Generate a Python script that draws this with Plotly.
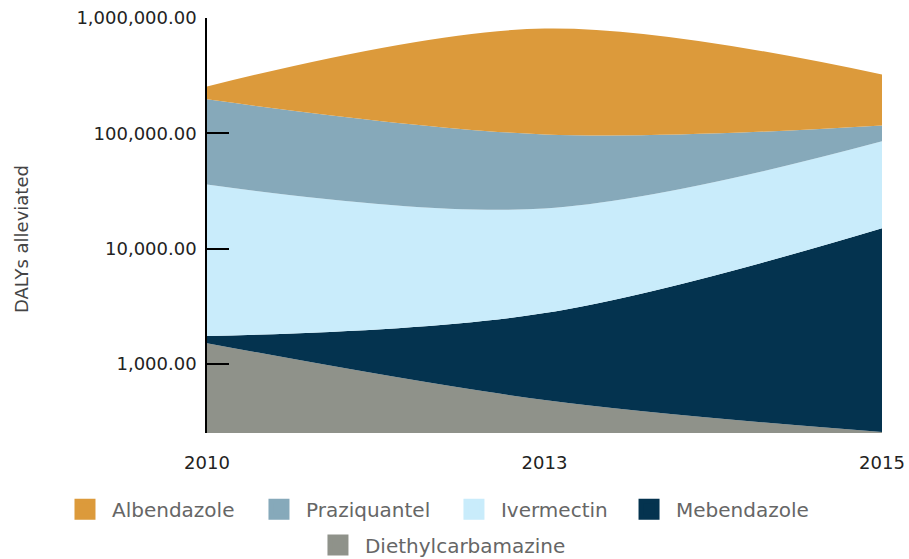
import plotly.graph_objects as go

# ----------------------------------------------------------------------
# Data (DALYs alleviated per drug, stacked bottom -> top)
# ----------------------------------------------------------------------
years = ["2010", "2013", "2015"]

diethylcarbamazine = [1520, 488, 258]
mebendazole = [230, 2280, 14800]
ivermectin = [34350, 19600, 70200]
praziquantel = [161000, 75600, 31700]
albendazole = [58000, 713000, 207000]

y_ticks = [1000, 10000, 100000, 1000000]

series = [
    ("Diethylcarbamazine", diethylcarbamazine, "#8f928a"),
    ("Mebendazole", mebendazole, "#04334f"),
    ("Ivermectin", ivermectin, "#c9ecfb"),
    ("Praziquantel", praziquantel, "#86a9ba"),
    ("Albendazole", albendazole, "#dc9a3b"),
]

# one legend box per entry so the two-row layout matches the original
legend_slots = {
    "Albendazole": ("legend", 0.0638, 0.089),
    "Praziquantel": ("legend2", 0.2772, 0.089),
    "Ivermectin": ("legend3", 0.4917, 0.089),
    "Mebendazole": ("legend4", 0.6843, 0.089),
    "Diethylcarbamazine": ("legend5", 0.3421, 0.025),
}

FONT = "DejaVu Sans, Roboto, sans-serif"

fig = go.Figure()
for name, values, colour in series:
    fig.add_trace(go.Scatter(
        x=years,
        y=values,
        name=name,
        mode="lines",
        stackgroup="drugs",
        line=dict(width=0, shape="spline", color=colour),
        fillcolor=colour,
        hoverinfo="skip",
        showlegend=False,
    ))

# legend swatches (squares) as dummy traces
for name, values, colour in series:
    fig.add_trace(go.Scatter(
        x=[None],
        y=[None],
        name=name,
        mode="markers",
        marker=dict(symbol="square", size=16, color=colour,
                    line=dict(width=5, color=colour)),
        legend=legend_slots[name][0],
        showlegend=True,
    ))

legends = {}
for name, (legend_id, lx, ly) in legend_slots.items():
    legends[legend_id] = dict(
        orientation="h",
        xref="container",
        yref="container",
        x=lx,
        y=ly,
        xanchor="left",
        yanchor="middle",
        font=dict(family=FONT, size=20, color="#666666"),
        itemwidth=44,
        bgcolor="rgba(0,0,0,0)",
    )

fig.update_layout(
    width=909,
    height=559,
    margin=dict(l=207, r=27, t=18, b=126),
    paper_bgcolor="#FFFFFF",
    plot_bgcolor="#FFFFFF",
    font=dict(family=FONT, size=18, color="#222222"),
    showlegend=True,
    xaxis=dict(
        type="category",
        range=[0, 2],
        showgrid=False,
        showline=False,
        zeroline=False,
        ticks="",
        automargin=False,
        ticklabelstandoff=17,
        tickfont=dict(family=FONT, size=18, color="#222222"),
    ),
    yaxis=dict(
        type="log",
        range=[2.403, 6.0],
        showgrid=False,
        showline=True,
        linecolor="#000000",
        linewidth=1.5,
        ticks="inside",
        ticklen=22,
        tickwidth=1.5,
        tickcolor="#000000",
        tickvals=y_ticks,
        tickformat=",.2f",
        automargin=False,
        ticklabelstandoff=5,
        tickfont=dict(family=FONT, size=18, color="#222222"),
    ),
    annotations=[dict(
        text="DALYs alleviated",
        xref="paper",
        yref="paper",
        x=-0.274,
        y=0.4675,
        xanchor="center",
        yanchor="middle",
        textangle=-90,
        showarrow=False,
        font=dict(family=FONT, size=18, color="#444444"),
    )],
    **legends,
)

fig.write_html(
    "out.html",
    config={"displayModeBar": False},
    post_script="document.body.style.margin='0px';",
)
